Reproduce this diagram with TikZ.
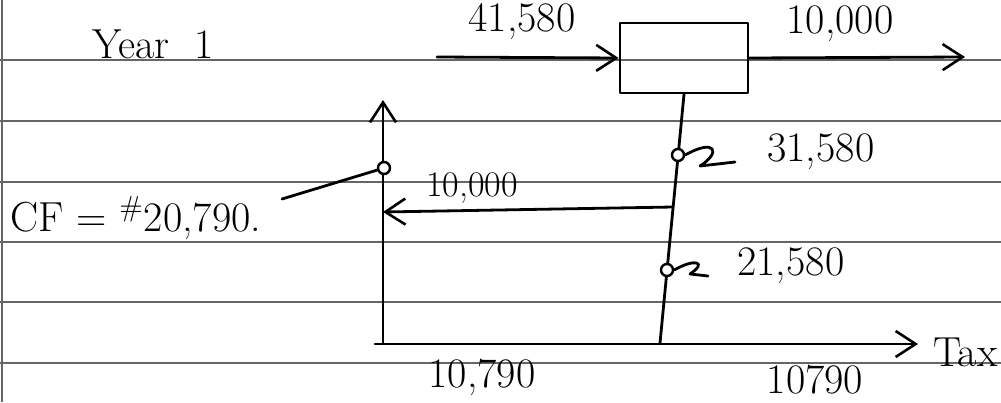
\documentclass[tikz,border=0pt]{standalone}
\usetikzlibrary{arrows.meta,positioning}

\begin{document}
\begin{tikzpicture}[x=0.5pt, y=-0.5pt,
    pen/.style={line width=1.4pt, line cap=round, line join=round},
    flow/.style={pen, -{Straight Barb[length=10pt, width=13pt, line width=1.3pt]}},
    paper/.style={gray!80!black, line width=0.6pt},
    hand/.style={font=\fontsize{21}{24}\selectfont, inner sep=1pt},
    dot/.style={circle, draw, line width=1.2pt, inner sep=0pt, minimum size=6pt}]
    \useasboundingbox (0,0) rectangle (1001,402);

    % Gelinieerd papier
    \foreach \y in {60,121,182,242,302,363}
        \draw[paper] (0,\y) -- (1001,\y);
    \draw[paper] (2,0) -- (2,402);

    % Titel
    \node[hand, anchor=base west] (year) at (90,58) {Year\ \ 1};

    % Rekening
    \node[pen, draw, minimum width=64pt, minimum height=35pt] (acct) at (684,58) {};
    \coordinate (in) at (437,57);
    \coordinate (out) at (965,57);
    \draw[flow] (in) -- (acct.west);
    \draw[flow] (acct.east) -- (out);
    \node[hand] (lin) at (522,22) {41,580};
    \node[hand] (lout) at (840,24) {10,000};

    % Tijdlijnen
    \coordinate (bot) at (660,343);
    \coordinate (ltop) at (383,100);
    \coordinate (lbot) at (383,343);
    \coordinate (tax0) at (375,344);
    \coordinate (tax1) at (918,344);
    \draw[pen] (acct.south) -- (bot);
    \draw[flow] (lbot) -- (ltop);
    \draw[flow] (tax0) -- (tax1);
    \node[hand, anchor=east] (tax) at (1000,352) {Tax};

    % Punten
    \node[dot, fill=white] (p1) at (678,155) {};
    \node[dot, fill=white] (p2) at (667,270) {};
    \node[dot, fill=white] (c0) at (384,168) {};
    \coordinate (split) at (673,207);

    % Bedragen
    \node[hand, anchor=west] (v1) at (765,152) {31,580};
    \node[hand, anchor=west] (v2) at (735,266) {21,580};
    \draw[pen] (p1.east) .. controls (715,138) and (722,152) .. (700,166) -- (735,162);
    \draw[pen] (p2.east) .. controls (695,258) and (708,262) .. (690,274) -- (708,276);
    \draw[flow] (split) -- (383,212);
    \node[hand, font=\fontsize{18}{21}\selectfont] (lmid) at (472,188) {10,000};

    % Kasstroom
    \node[hand, anchor=west] (cf) at (8,218) {CF = $^{\#}$20,790.};
    \draw[pen] (c0) -- (282,199);

    % Belasting
    \node[hand] (t1) at (482,377) {10,790};
    \node[hand] (t2) at (815,380) {10790};
\end{tikzpicture}
\end{document}
